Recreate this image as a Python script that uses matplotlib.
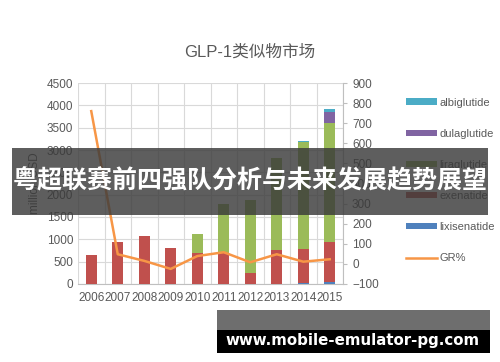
import matplotlib
matplotlib.use("Agg")
import matplotlib.pyplot as plt
import numpy as np
from matplotlib.patches import Rectangle

plt.rcParams['font.family'] = ['Liberation Sans', 'Noto Sans CJK SC', 'DejaVu Sans']

years = ['2006', '2007', '2008', '2009', '2010', '2011', '2012', '2013', '2014', '2015']
lixisenatide = [0, 0, 0, 0, 0, 0, 0, 0, 25, 50]
exenatide = [640, 950, 1075, 800, 700, 690, 255, 760, 755, 890]
liraglutide = [0, 0, 0, 0, 420, 1095, 1625, 2070, 2400, 2670]
dulaglutide = [0, 0, 0, 0, 0, 0, 0, 0, 0, 235]
albiglutide = [0, 0, 0, 0, 0, 0, 0, 0, 20, 65]
gr = [760, 48, 15, -25, 39, 58, 8, 48, 11, 23]

series = [
    ('lixisenatide', lixisenatide, '#4F81BD'),
    ('exenatide', exenatide, '#C0504D'),
    ('liraglutide', liraglutide, '#9BBB59'),
    ('dulaglutide', dulaglutide, '#8064A2'),
    ('albiglutide', albiglutide, '#4BACC6'),
]

fig = plt.figure(figsize=(5, 3.62), dpi=100)
ax = fig.add_axes([0.156, 0.2155, 0.53, 0.5552])
x = np.arange(len(years))
bottom = np.zeros(len(years))
handles = {}
for name, vals, col in series:
    v = np.array(vals, dtype=float)
    h = ax.bar(x, v, 0.4, bottom=bottom, color=col, zorder=3, label=name)
    handles[name] = h
    bottom += v

ax.set_xlim(-0.5, len(years) - 0.5)
ax.set_ylim(0, 4500)
ax.set_yticks(np.arange(0, 4501, 500))
ax.set_xticks(x)
ax.set_xticklabels(years)
ax.set_xticks(np.arange(-0.5, len(years), 1), minor=True)
ax.grid(True, axis='y', color='#D9D9D9', lw=0.8, zorder=0)
ax.grid(True, axis='x', which='minor', color='#D9D9D9', lw=0.8, zorder=0)
ax.tick_params(axis='both', which='both', length=0, labelsize=8.5, colors='#595959')
ax.tick_params(axis='x', pad=6)
for s in ['top', 'right', 'left']:
    ax.spines[s].set_visible(False)
ax.spines['bottom'].set_color('#BFBFBF')
ax.set_ylabel('million USD', fontsize=8.5, color='#595959', labelpad=4)

ax2 = ax.twinx()
ax2.set_ylim(-100, 900)
ax2.set_yticks(np.arange(-100, 901, 100))
line, = ax2.plot(x, gr, color='#F79646', lw=1.8, zorder=4, label='GR%')
ax2.tick_params(axis='y', length=3, color='#BFBFBF', labelsize=8.5, colors='#595959')
ax2.tick_params(axis='y', color='#BFBFBF')
for s in ['top', 'left', 'bottom']:
    ax2.spines[s].set_visible(False)
ax2.spines['right'].set_color('#BFBFBF')

order = ['albiglutide', 'dulaglutide', 'liraglutide', 'exenatide', 'lixisenatide']
leg = fig.legend([handles[n] for n in order] + [line], order + ['GR%'],
                 loc='upper left', bbox_to_anchor=(0.792, 0.758), frameon=False,
                 fontsize=8, labelspacing=1.9, handlelength=2.8, handleheight=0.5,
                 handletextpad=0.2, labelcolor='#595959')

fig.text(0.5, 0.855, 'GLP-1类似物市场', ha='center', va='center', fontsize=12,
         color='#595959', family=['Liberation Sans', 'Noto Sans CJK SC'])

# banner overlay
fig.patches.append(Rectangle((12/500, 1-215/362), 476/500, 67/362, transform=fig.transFigure,
                             facecolor='#3a3a3a', alpha=0.82, zorder=10))
fig.text(0.5, 1-181/362, '粤超联赛前四强队分析与未来发展趋势展望', ha='center', va='center',
         fontsize=18, color='white', fontweight='bold', family=['Noto Sans CJK SC'], zorder=11)

# watermark
fig.patches.append(Rectangle((217/500, 1-330/362), 273/500, 20/362, transform=fig.transFigure,
                             facecolor='#6e6e6e', zorder=10))
fig.patches.append(Rectangle((217/500, 1-353/362), 273/500, 23/362, transform=fig.transFigure,
                             facecolor='black', zorder=10))
fig.text(353/500, 1-341/362, 'www.mobile-emulator-pg.com', ha='center', va='center',
         fontsize=10.8, color='white', fontweight='bold', family=['DejaVu Sans'], zorder=11)

fig.savefig('out.png', dpi=100)
